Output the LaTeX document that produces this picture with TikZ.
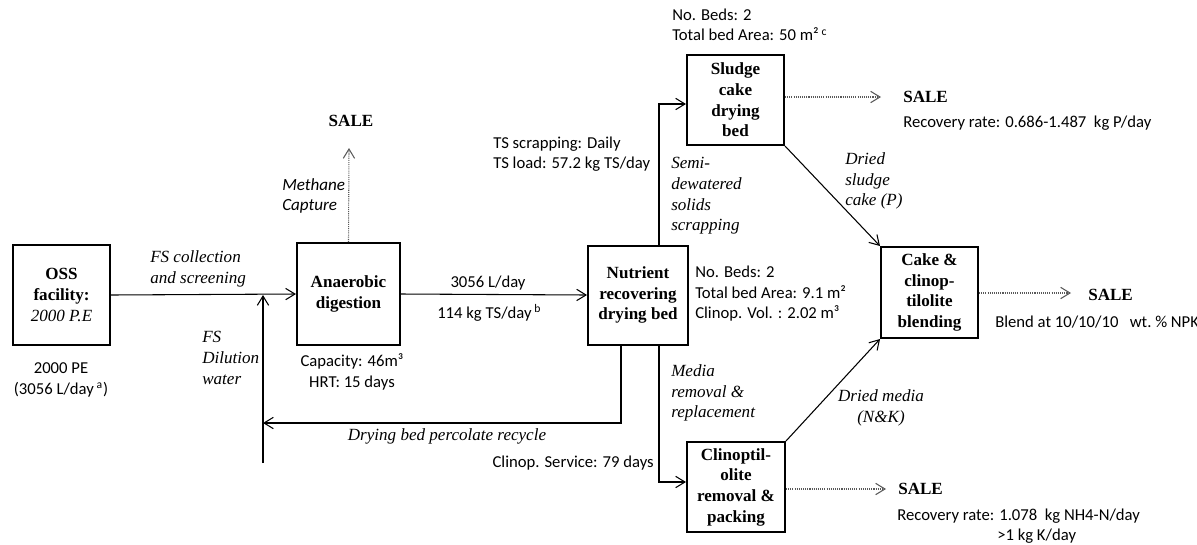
\documentclass[tikz,border=0pt]{standalone}
\usepackage{fontspec}
\setmainfont{Liberation Serif}
\newfontfamily\calfont{Carlito}
\usetikzlibrary{arrows.meta}
\tikzset{
  bx/.style={draw=black, line width=1.5pt, align=center, inner sep=0pt,
    font=\fontsize{12.8}{15.5}\selectfont\bfseries},
  lab/.style={font=\fontsize{12.8}{15.5}\selectfont\itshape, align=left, inner sep=0pt},
  cal/.style={font=\calfont\fontsize{12.5}{15.4}\selectfont, align=left, inner sep=0pt},
  calit/.style={font=\calfont\fontsize{12.8}{15.4}\selectfont\itshape, align=left, inner sep=0pt},
  sale/.style={font=\fontsize{12.8}{15.5}\selectfont\bfseries, inner sep=0pt},
  flow/.style={line width=0.8pt, -{Straight Barb[length=7pt,width=8.5pt]}},
  dotflow/.style={flow, draw=black!65, dash pattern=on 0.8pt off 0.8pt}
}
\begin{document}
\begin{tikzpicture}[x=0.75pt,y=-0.75pt]
\useasboundingbox (0,0) rectangle (1197,544);
\clip (0,0) rectangle (1197,544);
% boxes
\node[bx, minimum width=72.75pt, minimum height=75pt] (oss) at (61.5,295) {OSS\\facility:\\{\mdseries\itshape 2000 P.E}};
\node[bx, minimum width=77.25pt, minimum height=76.5pt] (ad) at (348.5,294) {Anaerobic\\digestion};
\node[bx, minimum width=75pt, minimum height=74.25pt] (nrb) at (638,295) {Nutrient\\recovering\\drying bed};
\node[bx, minimum width=72.75pt, minimum height=67.5pt] (scb) at (735.5,100) {Sludge\\cake\\drying\\bed};
\node[bx, minimum width=72.75pt, minimum height=68.25pt] (cake) at (929.5,292.5) {Cake \&\\clinop-\\tilolite\\blending};
\node[bx, minimum width=73.5pt, minimum height=67.5pt] (clin) at (736,487) {Clinoptil-\\olite\\removal \&\\packing};
% sale labels
\node[sale] (sale0) at (351,121) {SALE};
\node[sale, anchor=west] (sale1) at (903,97) {SALE};
\node[sale, anchor=west] (sale2) at (1088,295) {SALE};
\node[sale, anchor=west] (sale3) at (898,489) {SALE};
% coordinates
\coordinate (dil) at (263,463);
\coordinate (rc) at (621,423);
\coordinate (up) at (659,104);
\coordinate (dn) at (659,482);
\coordinate (m1) at (349,148);
\coordinate (s1) at (881,97);
\coordinate (s2) at (1071,293);
\coordinate (s3) at (886,489);
% connectors
\draw[flow] (oss.east) -- (ad.west);
\draw[flow] (dil) -- (dil |- oss.east);
\draw[flow] (nrb.south -| rc) -- (rc) -- (rc -| dil);
\draw[flow] (ad.east) -- (nrb.west);
\draw[dotflow] (ad.north) -- (m1);
\draw[flow] (nrb.north -| up) -- (up) -- (up -| scb.west);
\draw[flow] (nrb.south -| dn) -- (dn) -- (dn -| clin.west);
\draw[dotflow] (scb.east |- s1) -- (s1);
\draw[flow] (scb.south east) -- (cake.north west);
\draw[flow] (clin.north east) -- (cake.south west);
\draw[dotflow] (cake.east |- s2) -- (s2);
\draw[dotflow] (clin.east |- s3) -- (s3);
% text labels
\node[lab, anchor=west] (t1) at (150,269) {FS collection\\and screening};
\node[lab, anchor=west] (t2) at (202,358) {FS\\Dilution\\water};
\node[cal, align=center] (t3) at (61,380) {2000 PE\\(3056 L/day\,\textsuperscript{a})};
\node[calit, anchor=west] (t4) at (282,196) {Methane\\Capture};
\node[cal] (t5) at (488,283) {3056 L/day};
\node[cal, anchor=west] (t6) at (437,313) {114 kg TS/day\,\textsuperscript{b}};
\node[cal, align=center] (t7) at (352,372) {Capacity: 46m³\\HRT: 15 days};
\node[lab] (t8) at (447,436) {Drying bed percolate recycle};
\node[cal, anchor=east] (t9) at (654,463) {Clinop. Service: 79 days};
\node[cal, anchor=west] (t10) at (695,294) {No. Beds: 2\\Total bed Area: 9.1 m²\\Clinop. Vol. : 2.02 m³};
\node[lab, anchor=west] (t11) at (671,393) {Media\\removal \&\\replacement};
\node[cal, anchor=west] (t12) at (493,154) {TS scrapping: Daily\\TS load: 57.2 kg TS/day};
\node[lab, anchor=west] (t13) at (671,196) {Semi-\\dewatered\\solids\\scrapping};
\node[cal, anchor=west] (t14) at (672,25) {No. Beds: 2\\Total bed Area: 50 m²\,\textsuperscript{c}};
\node[lab, anchor=west] (t15) at (845,181) {Dried\\sludge\\cake (P)};
\node[lab, align=center] (t16) at (881,408) {Dried media\\(N\&K)};
\node[cal, anchor=west] (t17) at (903,123) {Recovery rate: 0.686-1.487\ \ kg P/day};
\node[cal, anchor=west] (t18) at (995,322) {Blend at 10/10/10\ \ \ wt.\ \% NPK};
\node[cal, anchor=west] (t19) at (897,526) {Recovery rate: 1.078\ \ kg NH4-N/day\\\hspace*{75pt}>1 kg K/day};
\end{tikzpicture}
\end{document}
